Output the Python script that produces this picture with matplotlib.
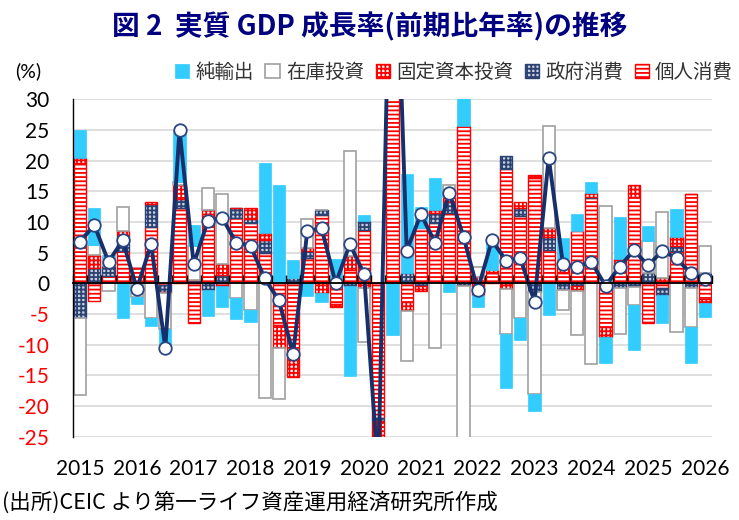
import numpy as np
import matplotlib
matplotlib.use("Agg")
import matplotlib.pyplot as plt
from matplotlib.patches import Patch

plt.rcParams['hatch.linewidth'] = 1.3

# ---- data (quarterly, 2015Q1 - 2026Q1), contributions in %pt ----
years = ["2015", "2016", "2017", "2018", "2019", "2020", "2021", "2022",
         "2023", "2024", "2025", "2026"]
personal = [19.6, -2.9, 1.25, 5.3, 2.5, 9.2, -0.3, 12.3, -6.5, 11.0, -0.5, 10.6,
            9.8, 4.9, -6.8, -12.0, 4.2, 11.1, -3.4, 2.2, 8.7, -22.0, 50.0, -3.0,
            9.0, 9.8, 11.4, 25.7, -1.9, 1.6, 18.6, 10.9, 17.1, 5.4, 1.6, 8.5,
            13.9, -7.1, 3.3, 14.1, -6.25, -0.8, 5.2, 14.5, -2.55]
government = [-5.7, 2.5, 1.5, 2.5, 0.0, 3.8, -1.1, 1.5, 0.5, -1.1, 1.4, 1.6,
              0.7, 2.2, 0.0, 0.9, 1.0, 0.8, 0.0, -0.4, 1.5, -0.5, 2.0, 1.6,
              -0.5, 1.6, 1.9, -0.5, 0.0, 0.0, 2.1, 1.4, -1.4, 2.2, -1.1, -0.5,
              0.2, 0.0, -0.8, -0.65, 1.6, -1.1, 0.8, -0.8, 1.6]
fixed_inv = [0.8, 2.1, 0.0, 0.8, 0.0, 0.3, -0.2, 2.15, 0.0, 0.9, 1.7, 0.0,
             1.7, 1.1, -3.8, -3.3, 0.55, -1.6, -0.5, 2.2, -0.7, -7.0, 20.0, -1.5,
             -0.7, 0.5, 0.8, 0.0, 1.0, 0.5, -0.9, 1.0, 0.55, 1.4, 1.1, -0.8,
             0.6, -1.6, 0.7, 2.0, -0.2, 0.8, 1.5, 0.0, -0.7]
inventory = [-12.5, 1.65, -1.25, 3.9, -2.2, -5.6, -5.8, 0.5, 5.5, 3.65, 11.4, -2.4,
             -4.3, -18.75, -8.3, 0.0, 4.8, 0.0, 0.0, 17.1, -8.8, -1.0, 11.0, -8.2,
             0.0, -10.6, 2.0, -25.6, 1.6, 0.0, -7.4, -5.6, -16.7, 16.6, -3.2, -7.2,
             -13.2, 12.6, -7.4, -2.9, 5.3, 10.8, -8.0, -6.25, 4.5]
net_exports = [4.6, 6.0, 1.9, -5.6, -1.2, -1.4, -3.0, 8.4, 3.5, -4.3, -3.4, -3.4,
               -2.0, 11.4, 16.1, 2.9, -2.0, -1.5, 4.0, -14.7, 0.9, -0.5, -8.4, 16.2,
               3.4, 5.3, -1.4, 8.0, -2.0, 4.9, -8.8, -3.6, -2.8, -5.1, 4.7, 2.75,
               1.8, -4.3, 6.8, -7.3, 2.4, -4.5, 4.6, -6.0, -2.2]
gdp = [6.8, 9.5, 3.5, 7.0, -0.9, 6.4, -10.5, 25.0, 3.1, 10.2, 10.7, 6.6,
       6.1, 0.8, -2.8, -11.5, 8.5, 9.0, 0.0, 6.4, 1.5, -31.0, 75.0, 5.3,
       11.3, 6.6, 14.8, 7.6, -1.1, 7.0, 3.7, 4.1, -3.0, 20.5, 3.1, 2.7,
       3.5, -0.4, 2.7, 5.4, 2.9, 5.3, 4.1, 1.6, 0.7]

CJK = ['Noto Sans CJK JP', 'DejaVu Sans']
NUM = ['Lato', 'DejaVu Sans']

fig = plt.figure(figsize=(7.39, 5.20), dpi=100)
ax = fig.add_axes([73 / 739, 1 - 436.6 / 520, (712 - 73) / 739, (436.6 - 99.3) / 520])

x = np.arange(len(personal))
width = 0.87

series = [
    ("個人消費", personal, dict(facecolor='white', edgecolor='#FF0000', hatch='----', linewidth=1.0)),
    ("政府消費", government, dict(facecolor='#C8D0E0', edgecolor='#2B4272', hatch='++++', linewidth=1.0)),
    ("固定資本投資", fixed_inv, dict(facecolor='white', edgecolor='#FF0000', hatch='++++', linewidth=1.0)),
    ("在庫投資", inventory, dict(facecolor='white', edgecolor='#A0A0A0', linewidth=1.2)),
    ("純輸出", net_exports, dict(facecolor='#33CCFF', edgecolor='#33CCFF', linewidth=0.5)),
]

pos_bottom = np.zeros(len(x))
neg_bottom = np.zeros(len(x))
handles = {}
for name, vals, style in series:
    v = np.array(vals, dtype=float)
    bottom = np.where(v >= 0, pos_bottom, neg_bottom)
    ax.bar(x, v, width=width, bottom=bottom, zorder=2, **style)
    pos_bottom = pos_bottom + np.where(v >= 0, v, 0)
    neg_bottom = neg_bottom + np.where(v < 0, v, 0)
    handles[name] = Patch(label=name, **style)

ax.plot(x, gdp, color='#17306B', lw=2.8, zorder=4,
        marker='o', markersize=9, markerfacecolor='white',
        markeredgecolor='#2A4680', markeredgewidth=1.3)

ax.set_xlim(-0.5, len(x) - 0.5)
ax.set_ylim(-25, 30)
ax.set_yticks(np.arange(-25, 31, 5))
ax.set_yticklabels([str(v) for v in range(-25, 31, 5)], family=NUM, fontsize=15)
for lbl, v in zip(ax.get_yticklabels(), range(-25, 31, 5)):
    lbl.set_color('#FF0000' if v < 0 else 'black')
ax.tick_params(axis='y', length=0, pad=17)

ax.set_xticks(x[::4])
ax.set_xticklabels(years, family=NUM, fontsize=15)
ax.tick_params(axis='x', length=0, pad=16)

ax.grid(axis='y', color='#D9D9D9', lw=1.2)
ax.set_axisbelow(True)
for s in ['top', 'right', 'bottom']:
    ax.spines[s].set_visible(False)
ax.spines['left'].set_color('black')
ax.spines['left'].set_linewidth(1.0)

# zero line with category boundary ticks
sec = ax.secondary_xaxis(25 / 55)
sec.set_xticks(np.arange(-0.5, len(x), 1))
sec.tick_params(axis='x', direction='in', length=6, width=1.0, color='black',
                labelbottom=False, labeltop=False)
sec.spines['bottom'].set_color('black')
sec.spines['bottom'].set_linewidth(1.3)
sec.spines['top'].set_visible(False)
sec.set_zorder(5)

# texts
fig.text(0.5, 1 - 27 / 520, "図 2  実質 GDP 成長率(前期比年率)の推移",
         ha='center', va='center', fontsize=20, fontweight='bold',
         color='#000080', family=CJK)
fig.text(15 / 739, 1 - 71 / 520, "(%)", ha='left', va='center',
         fontsize=14, family=NUM, color='black')
fig.text(2 / 739, 1 - 503 / 520, "(出所)CEIC より第一ライフ資産運用経済研究所作成",
         ha='left', va='center', fontsize=15.5, family=CJK, color='black')

order = ["純輸出", "在庫投資", "固定資本投資", "政府消費", "個人消費"]
leg = fig.legend([handles[n] for n in order], order, loc='center right',
                 bbox_to_anchor=(1.0, 1 - 72 / 520), ncol=5, frameon=False,
                 handlelength=0.75, handleheight=0.75, handletextpad=0.3,
                 columnspacing=0.6, borderaxespad=0.2, borderpad=0.1,
                 prop={'family': CJK, 'size': 14})
for t in leg.get_texts():
    t.set_color('#333333')

fig.savefig("out.png", dpi=100)
